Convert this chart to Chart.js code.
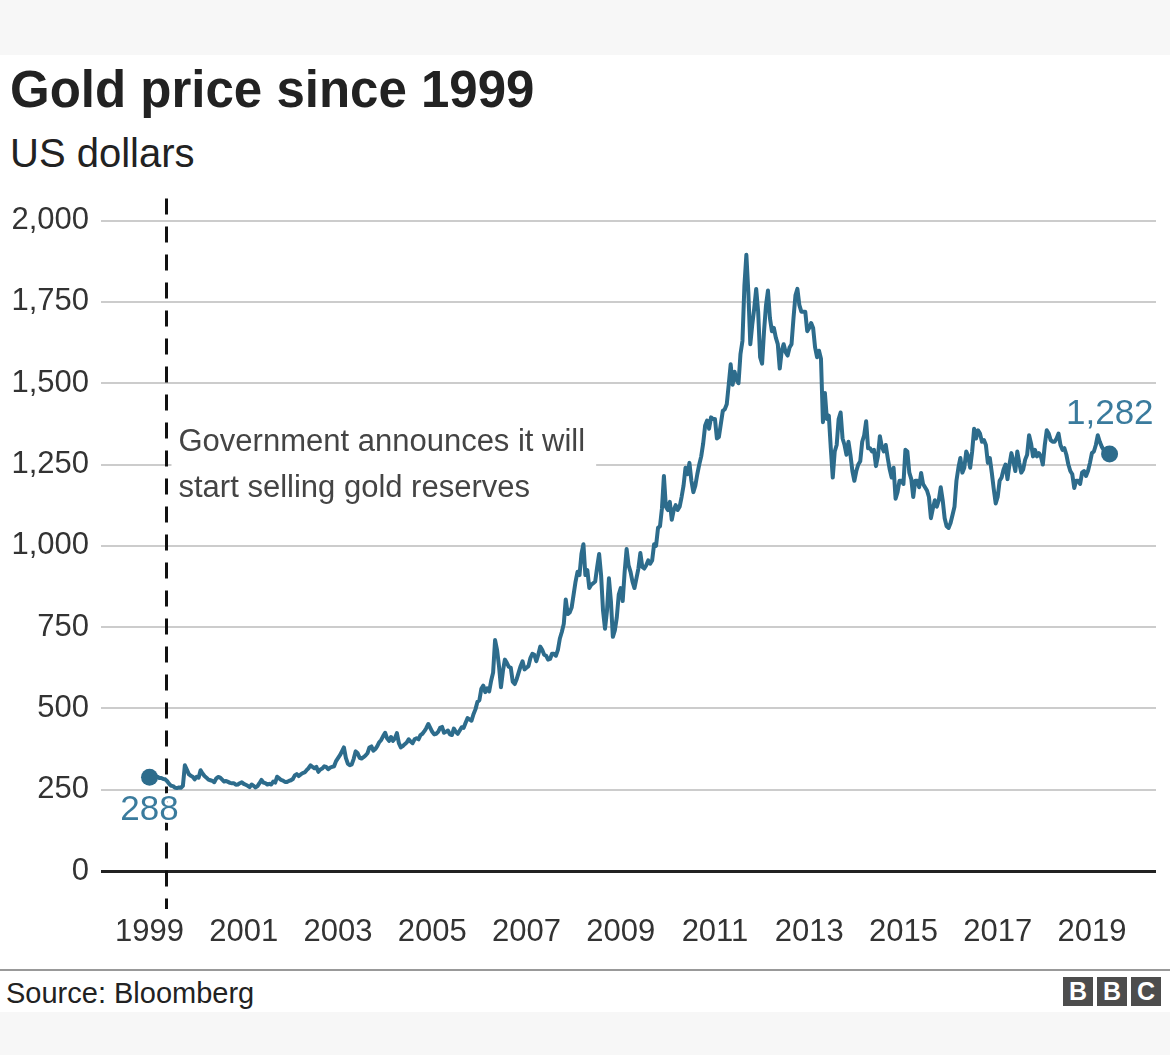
<!DOCTYPE html>
<html>
<head>
<meta charset="utf-8">
<script src="https://cdn.jsdelivr.net/npm/chart.js@4.4.1/dist/chart.umd.min.js"></script>
<style>
  html, body { margin:0; padding:0; width:1170px; height:1055px; overflow:hidden; background:#f7f7f7;
    font-family:"Liberation Sans", Arial, Helvetica, sans-serif; }
  #panel { position:absolute; left:0; top:55px; width:1170px; height:957px; background:#ffffff; }
  #title { position:absolute; left:10px; top:64px; font-size:51px; line-height:51px; font-weight:bold; color:#222; white-space:nowrap; }
  #subtitle { position:absolute; left:10px; top:133px; font-size:40px; line-height:40px; color:#222; white-space:nowrap; }
  #wrap { position:absolute; left:0; top:190px; width:1170px; height:770px; }
  #rule { position:absolute; left:0; top:969px; width:1170px; height:2px; background:#999; }
  #source { position:absolute; left:6px; top:979px; font-size:29px; line-height:29px; color:#222; white-space:nowrap; }
  #bbc { position:absolute; left:1063px; top:977px; height:29px; display:flex; gap:4px; }
  #bbc span { display:block; width:30px; height:29px; background:#4d4d4d; color:#fff; font-weight:bold;
    font-size:25px; line-height:29px; text-align:center; }
</style>
</head>
<body>
<div id="panel"></div>
<div id="title">Gold price since 1999</div>
<div id="subtitle">US dollars</div>
<div id="wrap"><canvas id="c" width="1170" height="770"></canvas></div>
<div id="rule"></div>
<div id="source">Source: Bloomberg</div>
<div id="bbc"><span>B</span><span>B</span><span>C</span></div>
<script>
// ---- Data: gold price (USD/oz), two readings per month (start and middle of month) ----
const startYear = 1999;
const readingsPerYear = 24;
const gold1999 = [288,287, 289,287, 290,286, 286,283, 282,276, 268,262, 261,256, 255,257, 256,262, 325,312, 298,293, 290,282];
const gold2000 = [290,287, 310,300, 292,287, 281,279, 277,273, 285,289, 287,281, 275,277, 274,271, 270,270, 265,266, 270,273];
const gold2001 = [268,265, 262,258, 266,262, 257,261, 270,280, 272,270, 266,268, 266,275, 272,290, 285,280, 278,274, 274,277];
const gold2002 = [279,283, 294,298, 292,297, 301,303, 310,316, 325,320, 316,320, 305,312, 315,322, 320,313, 318,320, 322,338];
const gold2003 = [347,356, 368,380, 348,330, 325,328, 345,368, 362,348, 346,350, 355,362, 380,383, 370,375, 384,396, 403,415];
const gold2004 = [425,408, 400,412, 400,408, 424,393, 380,384, 390,395, 405,398, 393,405, 408,405, 418,422, 430,440, 452,440];
const gold2005 = [428,420, 422,428, 440,443, 425,428, 432,420, 418,438, 428,422, 432,442, 440,456, 470,466, 462,482, 497,520];
const gold2006 = [525,560, 570,550, 562,552, 585,610, 710,680, 630,565, 615,650, 640,628, 625,582, 575,590, 610,630, 645,620];
const gold2007 = [625,630, 655,668, 665,645, 665,690, 680,665, 662,650, 652,668, 668,662, 680,715, 735,760, 835,790, 795,810];
const gold2008 = [850,890, 920,910, 975,1005, 910,925, 870,880, 885,890, 935,975, 910,800, 745,800, 900,830, 720,740, 780,850];
const gold2009 = [870,830, 920,990, 940,920, 890,870, 900,930, 978,935, 930,940, 955,945, 955,1005, 1000,1055, 1060,1115, 1215,1120];
const gold2010 = [1110,1135, 1080,1110, 1125,1110, 1120,1150, 1185,1240, 1220,1255, 1200,1165, 1185,1220, 1250,1275, 1315,1370, 1385,1360, 1395,1390];
const gold2011 = [1390,1330, 1335,1375, 1415,1420, 1435,1495, 1558,1495, 1535,1510, 1500,1590, 1630,1800, 1895,1780, 1620,1680, 1730,1790, 1720,1580];
const gold2012 = [1560,1660, 1740,1785, 1700,1660, 1670,1640, 1620,1545, 1600,1620, 1595,1585, 1610,1620, 1700,1770, 1790,1740, 1720,1720, 1720,1660];
const gold2013 = [1670,1685, 1670,1610, 1580,1600, 1575,1380, 1470,1390, 1400,1300, 1210,1290, 1310,1390, 1410,1330, 1310,1280, 1320,1280, 1230,1200];
const gold2014 = [1230,1250, 1260,1320, 1340,1383, 1300,1300, 1290,1295, 1245,1275, 1337,1305, 1290,1310, 1270,1235, 1210,1240, 1145,1165, 1200,1200];
const gold2015 = [1190,1295, 1290,1225, 1205,1150, 1200,1200, 1180,1224, 1190,1180, 1170,1150, 1085,1115, 1140,1120, 1140,1180, 1140,1085, 1060,1055];
const gold2016 = [1070,1095, 1120,1200, 1240,1270, 1225,1240, 1290,1275, 1240,1290, 1360,1330, 1355,1345, 1320,1325, 1310,1255, 1270,1225, 1175,1130];
const gold2017 = [1150,1200, 1210,1235, 1250,1205, 1250,1285, 1260,1230, 1290,1255, 1225,1235, 1265,1280, 1340,1315, 1275,1295, 1275,1285, 1275,1250];
const gold2018 = [1310,1355, 1345,1325, 1320,1320, 1330,1345, 1310,1295, 1300,1280, 1250,1230, 1220,1178, 1200,1200, 1190,1225, 1230,1215, 1230,1255];
const gold2019 = [1285,1290, 1310,1340, 1320,1305, 1295,1275, 1285,1282];

const xTickYears = [1999, 2001, 2003, 2005, 2007, 2009, 2011, 2013, 2015, 2017, 2019];
const yTickStep = 250;
const yMin = 0, yMax = 2000;
const xMin = 1997.97, xMax = 2020.36;
const announceYear = 1999.35; // May 1999
const annotationLines = ["Government announces it will", "start selling gold reserves"];

// ---- Build series ----
const allValues = [].concat(gold1999, gold2000, gold2001, gold2002, gold2003, gold2004, gold2005,
  gold2006, gold2007, gold2008, gold2009, gold2010, gold2011, gold2012, gold2013, gold2014,
  gold2015, gold2016, gold2017, gold2018, gold2019);
const series = allValues.map((v, i) => ({ x: startYear + i / readingsPerYear, y: v }));
const endPoints = [series[0], series[series.length - 1]];

const FONT = "'Liberation Sans', Arial, Helvetica, sans-serif";
const LINE_COLOR = '#2d6c8c';
const LABEL_COLOR = '#3a7b9d';
Chart.defaults.font.family = FONT;

const annotate = {
  id: 'annotate',
  beforeDatasetsDraw(chart) {
    const { ctx, scales: { x, y } } = chart;
    const px = Math.round(x.getPixelForValue(announceYear)) + 0.5;
    const yRef = y.getPixelForValue(1250);
    ctx.save();
    ctx.font = `31px ${FONT}`;
    const w = Math.max(...annotationLines.map(t => ctx.measureText(t).width));
    ctx.fillStyle = '#ffffff';
    ctx.fillRect(px + 5, yRef - 45, w + 18, 94);
    ctx.fillStyle = '#444';
    ctx.textBaseline = 'middle';
    ctx.textAlign = 'left';
    ctx.fillText(annotationLines[0], px + 12, yRef - 22);
    ctx.fillText(annotationLines[1], px + 12, yRef + 24);
    // dashed marker line
    ctx.strokeStyle = '#111';
    ctx.lineWidth = 3;
    ctx.setLineDash([16, 12]);
    ctx.beginPath();
    ctx.moveTo(px, y.getPixelForValue(yMax) - 22);
    ctx.lineTo(px, y.getPixelForValue(yMin) + 38);
    ctx.stroke();
    ctx.restore();
  },
  afterDatasetsDraw(chart) {
    const { ctx, scales: { x, y } } = chart;
    const s = endPoints[0], e = endPoints[1];
    ctx.save();
    ctx.font = `35px ${FONT}`;
    ctx.textBaseline = 'middle';
    ctx.lineJoin = 'round';
    ctx.strokeStyle = '#ffffff';
    ctx.lineWidth = 6;
    ctx.fillStyle = LABEL_COLOR;
    ctx.textAlign = 'center';
    const t1 = s.y.toLocaleString('en-US');
    const sx = x.getPixelForValue(s.x), sy = y.getPixelForValue(s.y) + 33;
    ctx.strokeText(t1, sx, sy);
    ctx.fillText(t1, sx, sy);
    ctx.textAlign = 'right';
    const t2 = e.y.toLocaleString('en-US');
    const ex = x.getPixelForValue(e.x) + 44, ey = y.getPixelForValue(e.y) - 40;
    ctx.strokeText(t2, ex, ey);
    ctx.fillText(t2, ex, ey);
    ctx.restore();
  }
};

new Chart(document.getElementById('c'), {
  type: 'line',
  data: {
    datasets: [
      {
        data: series,
        borderColor: LINE_COLOR,
        borderWidth: 4,
        pointRadius: 0,
        tension: 0,
        fill: false,
        borderJoinStyle: 'round'
      },
      {
        data: endPoints,
        showLine: false,
        pointRadius: 8.5,
        pointBackgroundColor: LINE_COLOR,
        pointBorderWidth: 0
      }
    ]
  },
  options: {
    responsive: false,
    animation: false,
    layout: { padding: { left: 0, right: 10, top: 29, bottom: 0 } },
    plugins: { legend: { display: false }, tooltip: { enabled: false } },
    scales: {
      x: {
        type: 'linear', min: xMin, max: xMax,
        grid: { display: false, drawTicks: false },
        border: { display: false },
        afterBuildTicks: s => { s.ticks = xTickYears.map(v => ({ value: v })); },
        afterFit: s => { s.height = 89; },
        ticks: { padding: 43, autoSkip: false, maxRotation: 0, color: '#333',
          font: { size: 31 }, callback: v => String(v) }
      },
      y: {
        min: yMin, max: yMax,
        afterFit: s => { s.width = 101; },
        border: { display: false },
        grid: {
          drawTicks: false,
          color: c => c.tick && c.tick.value === 0 ? '#222' : '#cccccc',
          lineWidth: c => c.tick && c.tick.value === 0 ? 3 : 2
        },
        ticks: { stepSize: yTickStep, padding: 12, color: '#333', font: { size: 31 },
          callback: v => v.toLocaleString('en-US') }
      }
    }
  },
  plugins: [annotate]
});
</script>
</body>
</html>
